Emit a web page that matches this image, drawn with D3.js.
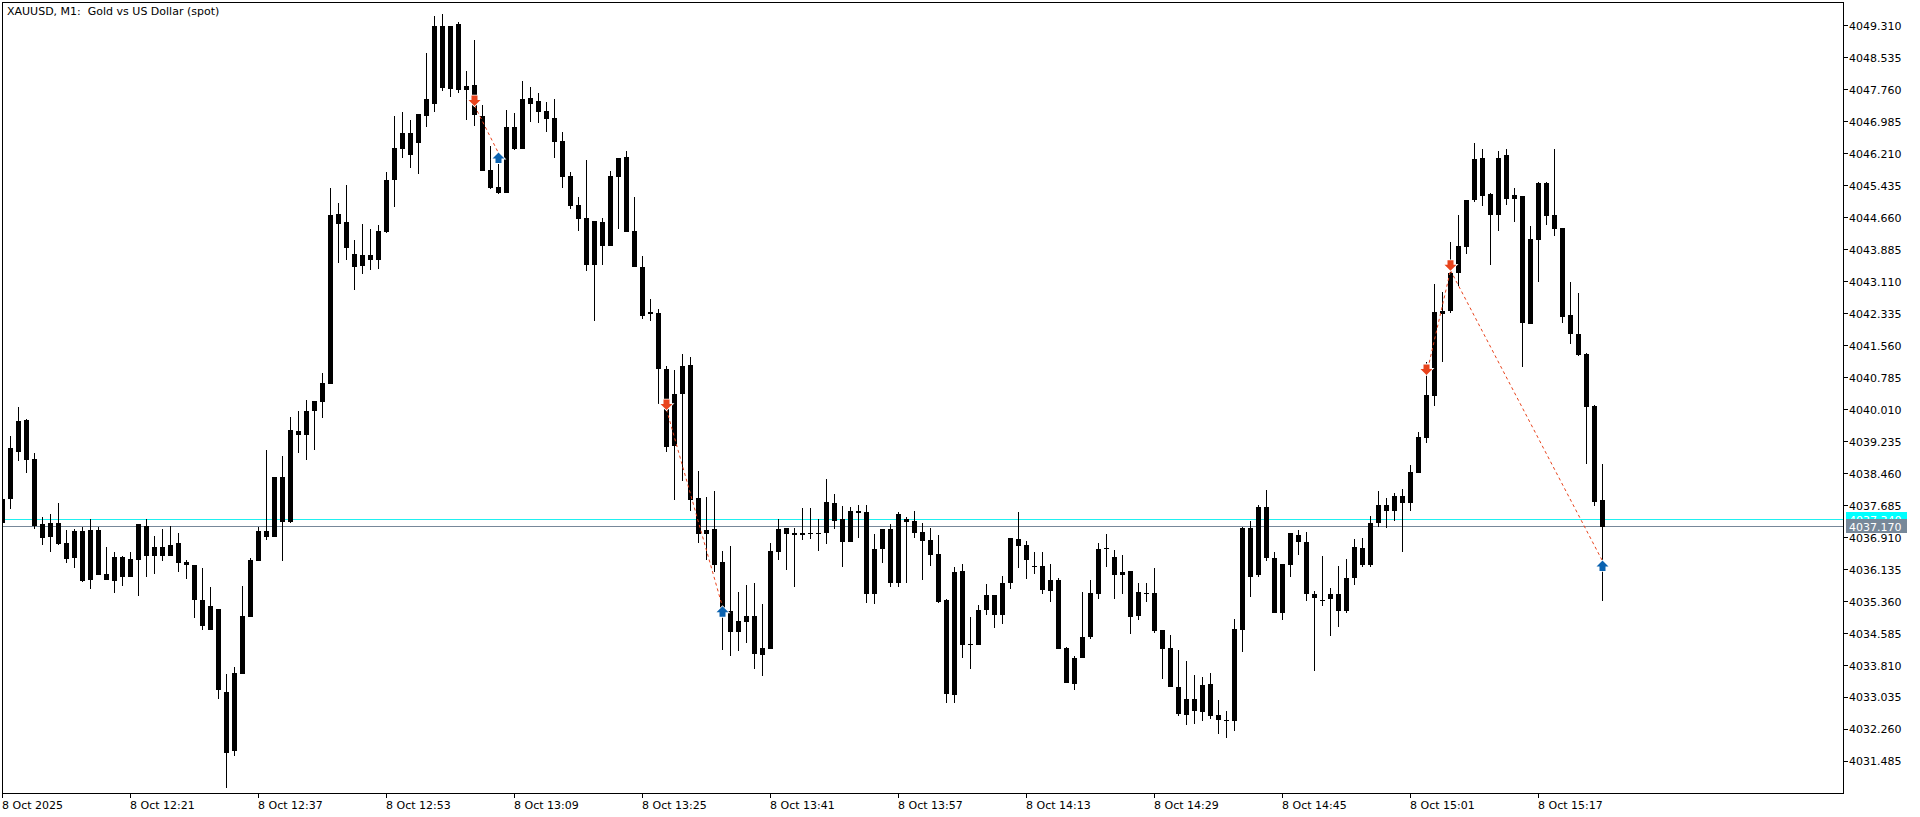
<!DOCTYPE html>
<html>
<head>
<meta charset="utf-8">
<script src="https://cdn.jsdelivr.net/npm/d3@7/dist/d3.min.js"></script>
<style>
html,body{margin:0;padding:0;background:#fff;overflow:hidden}
svg{display:block}
text{font-family:"DejaVu Sans",sans-serif;font-size:11px;fill:#000;white-space:pre}
</style>
</head>
<body>
<script>
const title = "XAUUSD, M1:  Gold vs US Dollar (spot)";
const highs = [
4037.84,4039.37,4040.07,4039.77,4038.95,4037.40,4037.49,4037.74,4037.08,4037.11,
4037.16,4037.35,4037.16,4036.67,4036.55,4036.45,4036.55,4037.23,4037.35,4036.94,
4037.11,4037.18,4037.01,4036.36,4036.24,4036.16,4035.70,4035.19,4033.60,4033.77,
4035.73,4036.41,4037.16,4039.02,4038.37,4038.88,4039.84,4039.97,4040.23,4040.21,
4040.89,4045.37,4045.00,4045.44,4044.11,4044.50,4044.37,4044.47,4045.75,4047.11,
4047.21,4047.01,4047.16,4048.64,4049.53,4049.58,4049.31,4049.39,4048.22,4048.95,
4047.38,4046.38,4046.09,4047.26,4047.18,4047.96,4047.81,4047.67,4047.45,4047.52,
4046.72,4045.75,4045.15,4046.05,4044.57,4044.66,4045.78,4046.09,4046.26,4045.15,
4043.72,4042.68,4042.44,4041.06,4040.96,4041.35,4041.27,4038.51,4037.88,4038.03,
4036.58,4036.70,4035.58,4035.75,4035.80,4035.29,4036.77,4037.35,4037.13,4037.13,
4037.62,4037.62,4037.35,4038.32,4037.96,4037.67,4037.64,4037.69,4037.69,4036.99,
4037.11,4037.23,4037.52,4037.40,4037.54,4037.25,4037.13,4036.96,4035.41,4036.19,
4036.26,4034.98,4035.27,4035.78,4035.51,4035.97,4036.89,4037.52,4036.82,4036.55,
4036.57,4036.28,4035.92,4034.27,4034.03,4035.58,4035.87,4036.77,4036.99,4036.60,
4036.48,4036.09,4035.80,4035.80,4036.16,4034.66,4034.56,4034.18,4033.91,4033.57,
4033.52,4033.62,4032.97,4032.72,4034.93,4037.16,4037.30,4037.69,4038.05,4036.55,
4036.26,4037.01,4037.08,4037.04,4035.61,4036.45,4035.68,4036.21,4036.38,4036.87,
4036.89,4037.42,4038.03,4037.86,4037.98,4038.08,4038.66,4039.46,4041.15,4043.04,
4042.85,4044.06,4044.71,4045.08,4046.46,4046.31,4045.25,4046.26,4046.31,4045.37,
4045.17,4044.45,4045.51,4045.51,4046.31,4044.40,4043.11,4042.82,4041.39,4040.11,4038.68];
const bodyTops = [
4037.84,4039.07,4039.72,4039.75,4038.80,4037.23,4037.25,4037.25,4036.77,4037.06,
4037.06,4037.08,4037.08,4036.02,4036.43,4036.43,4036.38,4037.23,4037.18,4036.67,
4036.67,4036.74,4036.77,4036.31,4036.24,4035.39,4035.24,4035.19,4033.18,4033.62,
4035.02,4036.36,4037.06,4037.06,4038.37,4038.37,4039.51,4039.48,4039.97,4040.21,
4040.64,4044.72,4044.74,4044.54,4043.77,4043.74,4043.74,4044.33,4045.56,4046.34,
4046.70,4046.70,4047.16,4047.52,4049.31,4049.29,4049.31,4049.34,4047.84,4047.86,
4047.13,4045.80,4045.39,4046.84,4046.84,4047.52,4047.55,4047.47,4047.23,4047.06,
4046.51,4045.66,4044.96,4044.64,4044.57,4044.54,4045.66,4046.09,4046.12,4044.33,
4043.45,4042.36,4042.34,4040.98,4040.38,4041.06,4041.08,4037.86,4037.09,4037.11,
4036.31,4035.12,4034.88,4035.00,4035.00,4034.23,4036.58,4037.11,4037.13,4037.01,
4037.01,4037.01,4037.01,4037.76,4037.74,4037.35,4037.54,4037.54,4037.52,4036.62,
4037.11,4037.11,4037.47,4037.37,4037.30,4037.04,4036.84,4036.50,4035.39,4036.07,
4036.09,4034.33,4035.15,4035.51,4035.51,4035.82,4036.89,4036.87,4036.72,4036.22,
4036.21,4035.87,4035.87,4034.23,4033.98,4034.49,4035.56,4036.62,4036.66,4036.43,
4036.07,4036.09,4035.58,4035.56,4035.56,4034.66,4034.23,4033.28,4033.01,4032.99,
4033.33,4033.35,4032.60,4032.49,4034.69,4037.13,4037.13,4037.64,4037.64,4036.41,
4036.26,4037.01,4036.96,4036.79,4035.53,4035.40,4035.53,4035.53,4035.92,4036.67,
4036.65,4037.25,4037.69,4037.69,4037.91,4037.91,4038.49,4039.34,4040.35,4042.36,
4042.39,4043.31,4043.96,4045.08,4046.07,4046.09,4045.22,4046.09,4046.17,4045.20,
4045.17,4044.13,4045.49,4045.49,4044.71,4044.40,4042.29,4041.85,4041.35,4040.09,4037.81];
const bodyBottoms = [
4037.27,4037.85,4038.99,4038.79,4037.19,4036.90,4036.93,4036.76,4036.40,4036.42,
4035.86,4035.89,4035.99,4035.89,4035.86,4035.96,4035.96,4036.37,4036.45,4036.45,
4036.45,4036.45,4036.30,4036.25,4035.40,4034.77,4034.68,4033.22,4031.70,4031.75,
4033.61,4034.99,4036.35,4036.93,4036.93,4037.29,4037.29,4039.40,4039.40,4039.97,
4040.20,4040.63,4044.51,4043.91,4043.47,4043.49,4043.64,4043.64,4044.32,4045.58,
4046.33,4046.18,4046.47,4047.13,4047.42,4047.80,4047.78,4047.76,4047.76,4047.15,
4045.79,4045.38,4045.26,4045.26,4046.33,4046.33,4047.42,4047.22,4047.05,4046.50,
4045.63,4044.95,4044.63,4043.52,4043.52,4043.98,4043.98,4045.63,4044.32,4043.45,
4042.28,4042.33,4040.98,4039.11,4039.13,4040.39,4037.83,4037.00,4037.00,4036.25,
4035.19,4034.61,4034.61,4034.87,4034.10,4034.07,4034.22,4036.57,4037.00,4036.98,
4036.98,4037.00,4037.00,4037.03,4037.32,4036.79,4036.81,4037.51,4035.55,4035.55,
4036.64,4035.82,4035.82,4037.29,4037.03,4036.83,4036.49,4035.36,4033.13,4033.10,
4034.31,4034.31,4034.31,4035.16,4035.04,4035.04,4035.82,4036.71,4036.37,4036.20,
4035.65,4035.62,4034.22,4033.39,4033.37,4033.98,4034.51,4035.55,4036.64,4035.99,
4035.99,4034.99,4035.02,4035.55,4034.65,4034.22,4033.30,4032.64,4032.62,4032.72,
4032.69,4032.59,4032.50,4032.47,4032.47,4034.68,4035.96,4035.99,4036.42,4035.07,
4035.07,4036.25,4036.79,4035.53,4035.44,4035.38,4035.41,4035.12,4035.12,4035.94,
4036.25,4036.25,4037.27,4037.54,4037.56,4037.75,4037.75,4038.48,4039.33,4040.34,
4042.33,4042.40,4043.32,4043.95,4045.09,4045.19,4044.73,4044.73,4045.12,4045.12,
4042.10,4042.09,4044.12,4044.70,4044.39,4042.26,4041.85,4041.34,4040.08,4037.78,4037.17];
const lows = [
4037.27,4037.60,4038.77,4038.48,4037.12,4036.74,4036.57,4036.74,4036.30,4036.16,
4035.84,4035.67,4035.99,4035.89,4035.57,4035.74,4035.96,4035.50,4035.96,4036.03,
4036.35,4036.45,4036.08,4035.91,4034.97,4034.68,4034.68,4033.01,4030.85,4031.63,
4033.61,4034.98,4036.35,4036.86,4036.93,4036.35,4037.27,4038.96,4038.79,4039.04,
4039.80,4040.63,4043.57,4043.64,4042.91,4043.30,4043.40,4043.42,4044.29,4044.92,
4046.09,4045.87,4045.72,4046.84,4047.22,4047.73,4047.59,4047.68,4047.03,4046.88,
4045.79,4045.36,4045.24,4045.26,4046.30,4046.33,4046.98,4046.96,4046.74,4046.11,
4045.38,4044.87,4044.34,4043.37,4042.16,4043.52,4043.98,4044.39,4044.32,4043.45,
4042.19,4042.16,4040.15,4038.99,4037.83,4038.29,4037.54,4036.78,4036.37,4036.08,
4034.19,4034.05,4034.15,4034.36,4033.73,4033.56,4034.22,4036.37,4036.13,4035.72,
4036.86,4036.88,4036.59,4036.76,4037.12,4036.20,4036.81,4036.91,4035.33,4035.31,
4036.30,4035.70,4035.70,4035.82,4036.91,4035.87,4036.23,4035.33,4032.89,4032.89,
4033.98,4033.73,4034.31,4035.04,4034.73,4034.82,4035.67,4036.16,4035.91,4036.03,
4035.53,4035.36,4034.22,4033.39,4033.22,4033.98,4034.44,4035.43,4036.20,4035.43,
4035.55,4034.58,4034.92,4035.36,4034.60,4033.49,4033.30,4032.59,4032.38,4032.40,
4032.47,4032.52,4032.16,4032.06,4032.23,4034.14,4035.48,4035.96,4036.35,4035.07,
4034.92,4035.96,4036.49,4035.38,4033.68,4035.26,4034.53,4034.75,4035.07,4035.77,
4036.20,4036.20,4037.17,4037.15,4037.32,4036.57,4037.56,4038.48,4039.21,4040.10,
4041.17,4042.35,4043.01,4043.78,4045.04,4044.95,4043.52,4044.34,4044.97,4044.54,
4041.05,4042.09,4043.11,4044.49,4044.20,4042.11,4041.60,4041.31,4038.68,4037.68,4035.38];

const priceTicks = [4049.31,4048.535,4047.76,4046.985,4046.21,4045.435,4044.66,4043.885,4043.11,4042.335,4041.56,4040.785,4040.01,4039.235,4038.46,4037.685,4036.91,4036.135,4035.36,4034.585,4033.81,4033.035,4032.26,4031.485];
const timeTickBars = [0,16,32,48,64,80,96,112,128,144,160,176,192];
const timeTickLabels = ["8 Oct 2025","8 Oct 12:21","8 Oct 12:37","8 Oct 12:53","8 Oct 13:09","8 Oct 13:25","8 Oct 13:41","8 Oct 13:57","8 Oct 14:13","8 Oct 14:29","8 Oct 14:45","8 Oct 15:01","8 Oct 15:17"];
const askPrice = 4037.34;
const bidPrice = 4037.17;
const tradeBars = [59,62,83,90,178,181,200];
const tradePrices = [4047.37,4046.22,4040.01,4035.23,4040.86,4043.38,4036.34];
const tradeSides = ["sell","buy","sell","buy","sell","sell","buy"];
const tradeLinks = [[0,1],[2,3],[4,5],[5,6]];

const W = 1920, H = 817;
const plot = {l:2, t:2, r:1843, b:793};
const x = d3.scaleLinear().domain([0,200]).range([2.5,1602.5]);
const y = d3.scaleLinear().domain([4049.8792,4030.7221]).range([plot.t,plot.b]);
const row = v => Math.round(y(v));

const svg = d3.select("body").append("svg").attr("width",W).attr("height",H);
svg.append("rect").attr("width",W).attr("height",H).attr("fill","#fff");
svg.append("defs").append("clipPath").attr("id","plotClip").append("rect")
  .attr("x",plot.l).attr("y",plot.t).attr("width",plot.r-plot.l).attr("height",plot.b-plot.t);
const g = svg.append("g").attr("clip-path","url(#plotClip)");

// price lines
const lineRow = v => Math.floor(y(v))+0.5;
[[askPrice,"#1FF0F0"],[bidPrice,"#778899"]].forEach(([p,c])=>{
  g.append("line").attr("x1",plot.l).attr("x2",plot.r).attr("y1",lineRow(p)).attr("y2",lineRow(p))
   .attr("stroke",c).attr("stroke-width",1).attr("shape-rendering","crispEdges");
});

// candles
const bars = highs.map((h,i)=>({i,h,l:lows[i],a:bodyTops[i],b:bodyBottoms[i]}));
const cg = g.append("g").attr("shape-rendering","crispEdges");
cg.selectAll("rect.w").data(bars).join("rect").attr("class","w")
  .attr("x",d=>x(d.i)-0.5).attr("width",1)
  .attr("y",d=>row(d.h)).attr("height",d=>Math.max(1,row(d.l)-row(d.h))).attr("fill","#000");
cg.selectAll("rect.b").data(bars).join("rect").attr("class","b")
  .attr("x",d=>x(d.i)-2.5).attr("width",5)
  .attr("y",d=>row(d.a)).attr("height",d=>Math.max(1,row(d.b)-row(d.a))).attr("fill","#000");

// trade links
const sellColor = "#E8431C", buyColor = "#0A62B0";
g.selectAll("line.link").data(tradeLinks).join("line").attr("class","link")
  .attr("x1",d=>x(tradeBars[d[0]])).attr("y1",d=>y(tradePrices[d[0]]))
  .attr("x2",d=>x(tradeBars[d[1]])).attr("y2",d=>y(tradePrices[d[1]]))
  .attr("stroke",sellColor).attr("stroke-width",1).attr("stroke-dasharray","3,3");

// trade arrows
const arrow = d3.line();
const downShape = [[-3,-10],[3,-10],[3,-5.5],[6,-5.5],[0,0.5],[-6,-5.5],[-3,-5.5]];
g.selectAll("path.halo").data(tradeBars.map((b,i)=>({b,p:tradePrices[i],s:tradeSides[i]}))).join("path")
  .attr("class","halo")
  .attr("transform",d=>`translate(${x(d.b)},${y(d.p)}) scale(1,${d.s==="sell"?1:-1})`)
  .attr("d",arrow(downShape)+"Z")
  .attr("fill","#fff").attr("stroke","#fff").attr("stroke-width",1.6);
g.selectAll("path.arrow").data(tradeBars.map((b,i)=>({b,p:tradePrices[i],s:tradeSides[i]}))).join("path")
  .attr("class","arrow")
  .attr("transform",d=>`translate(${x(d.b)},${y(d.p)}) scale(1,${d.s==="sell"?1:-1})`)
  .attr("d",arrow(downShape)+"Z")
  .attr("fill",d=>d.s==="sell"?sellColor:buyColor);

// frame
svg.append("rect").attr("x",plot.l+0.5).attr("y",plot.t+0.5)
  .attr("width",plot.r-plot.l).attr("height",plot.b-plot.t)
  .attr("fill","none").attr("stroke","#000").attr("shape-rendering","crispEdges");

// axes
const yAxis = d3.axisRight(y).tickValues(priceTicks).tickFormat(d3.format(".3f")).tickSize(5).tickPadding(1).offset(0);
const ya = svg.append("g").attr("transform",`translate(${plot.r},0)`).call(yAxis);
ya.select(".domain").remove();
ya.selectAll("line").attr("stroke","#000").attr("shape-rendering","crispEdges");
ya.selectAll("text").attr("font-family",null).attr("dy",null).attr("y",4);

const xAxis = d3.axisBottom(x).tickValues(timeTickBars).tickFormat((d,i)=>timeTickLabels[i]).tickSize(5).tickPadding(1).offset(0);
const xa = svg.append("g").attr("transform",`translate(0,${plot.b})`).call(xAxis);
xa.select(".domain").remove();
xa.selectAll("line").attr("stroke","#000").attr("shape-rendering","crispEdges");
xa.selectAll("text").attr("text-anchor","start").attr("dy",null).attr("x",-0.5).attr("y",16);

// title
svg.append("text").attr("x",7).attr("y",15).text(title);

// price labels
const fmt = d3.format(".3f");
[[askPrice,"#00FFFF"],[bidPrice,"#778899"]].forEach(([p,c])=>{
  const yy = lineRow(p)-0.5;
  const l = svg.append("g");
  l.append("rect").attr("x",plot.r+3).attr("y",yy-7).attr("width",61).attr("height",14).attr("fill",c);
  l.append("text").attr("x",plot.r+6).attr("y",yy+4.5).style("fill","#fff").text(fmt(p));
});
</script>
</body>
</html>
